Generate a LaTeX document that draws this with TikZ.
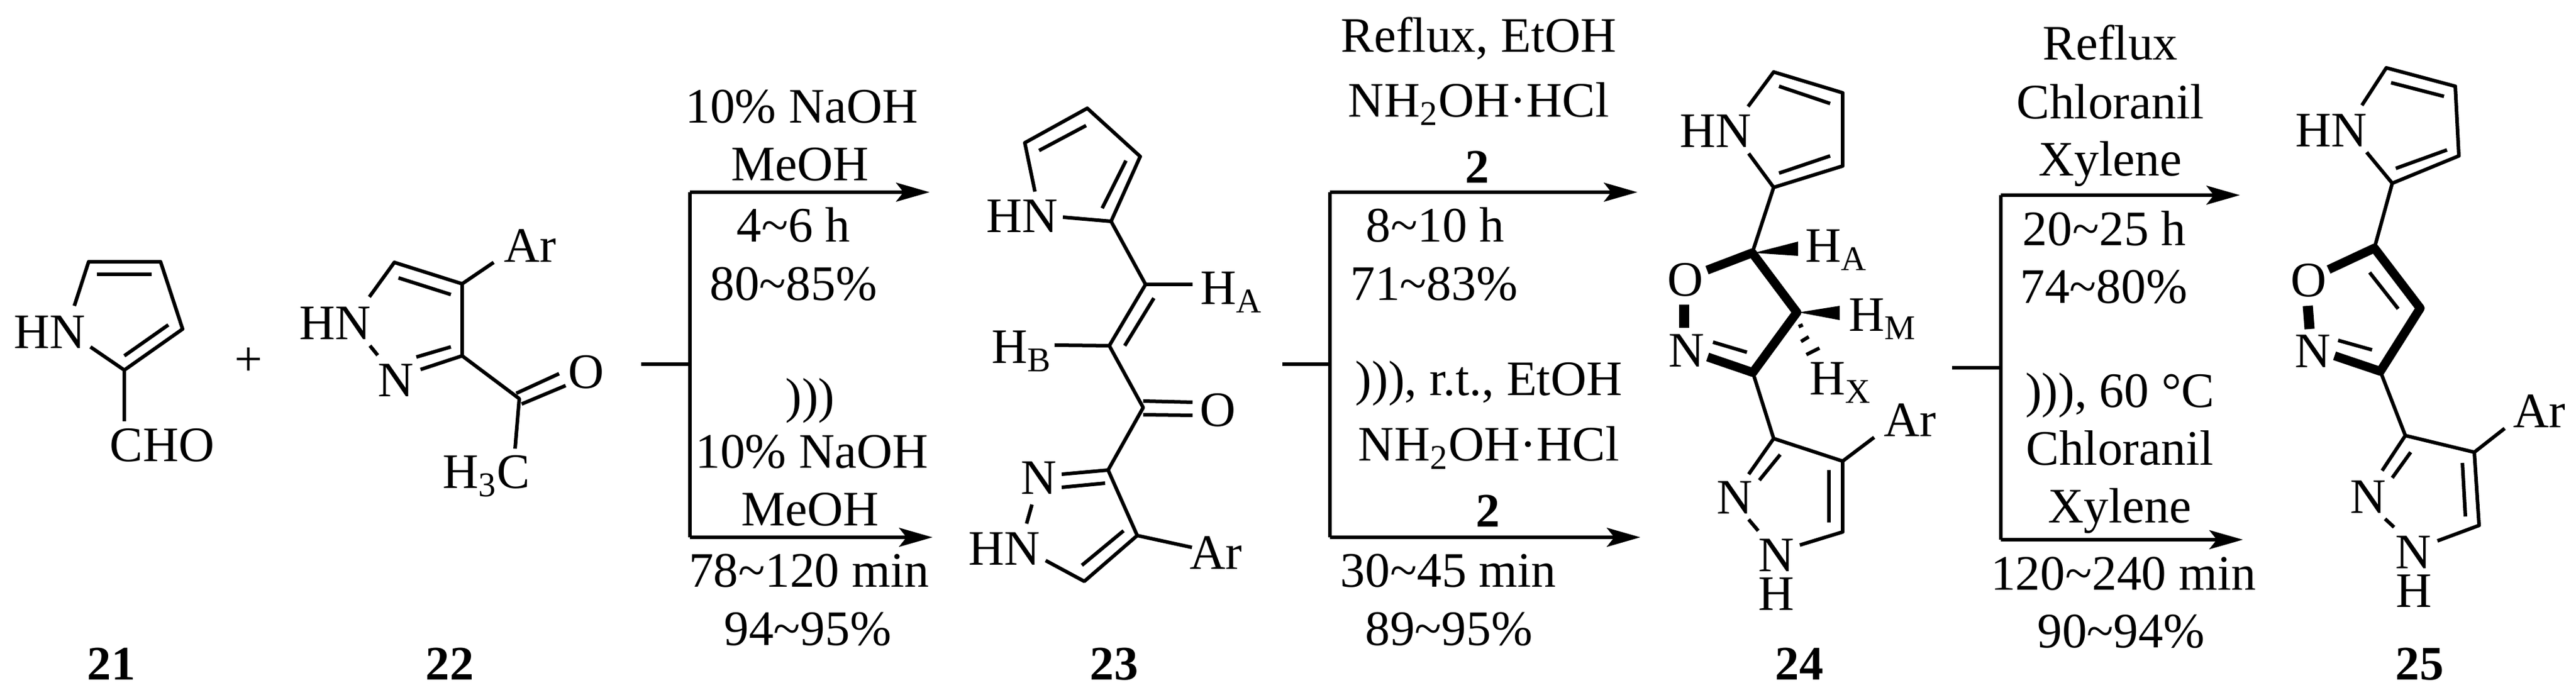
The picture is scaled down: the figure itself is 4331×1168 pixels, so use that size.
\documentclass[tikz,border=0pt]{standalone}
\usepackage{fontspec}
\setmainfont{Liberation Serif}
\usetikzlibrary{arrows.meta}
\newcommand{\til}{\textasciitilde}
\tikzset{
  atom/.style={anchor=base west,inner sep=0pt,font=\fontsize{23.7}{23.7}\selectfont},
  cond/.style={anchor=base,inner sep=0pt,font=\fontsize{23.7}{23.7}\selectfont},
  cmpd/.style={anchor=base,inner sep=0pt,font=\fontsize{23}{23}\selectfont\bfseries},
  bond/.style={line width=0.06cm,line join=round},
  heavy/.style={line width=0.15cm,line join=round},
  rxn/.style={line width=0.065cm},
  wedge/.style={fill=black,draw=none}
}
\begin{document}
\begin{tikzpicture}[x=0.01cm,y=-0.01cm,>={Stealth[length=16pt,width=9pt,inset=3.5pt]}]
  \useasboundingbox (0,0) rectangle (4331,1168);

  % Pirrol 21
  \coordinate (p1) at (125,514);
  \coordinate (p2) at (149,440);
  \coordinate (p3) at (270,440);
  \coordinate (p4) at (307,553);
  \coordinate (p5) at (209,622);
  \coordinate (p6) at (152,583);
  \coordinate (p7) at (209,708);
  \draw[bond] (p1) -- (p2) -- (p3) -- (p4) -- (p5) -- (p6);
  \draw[bond] (p5) -- (p7);
  \draw[bond] (163,461) -- (255,461);
  \draw[bond] (209,598) -- (283,546);
  \node[atom] (hnA) at (23,586) {HN};
  \node[atom] (cho) at (184,776) {CHO};
  \node[atom,anchor=center] (plus) at (418,608) {+};

  % Pirazol 22
  \coordinate (q1) at (621,499);
  \coordinate (q2) at (663,441);
  \coordinate (q3) at (777,477);
  \coordinate (q4) at (777,598);
  \coordinate (q5) at (707,621);
  \coordinate (q6) at (873,670);
  \coordinate (q7) at (866,754);
  \coordinate (q8) at (830,441);
  \coordinate (q9) at (622,581);
  \coordinate (q10) at (635,597);
  \draw[bond] (q1) -- (q2) -- (q3) -- (q4) -- (q5);
  \draw[bond] (q4) -- (q6) -- (q7);
  \draw[bond] (q3) -- (q8);
  \draw[bond] (q9) -- (q10);
  \draw[bond] (670,467) -- (758,495);
  \draw[bond] (700,600) -- (758,583);
  \draw[bond] (868,661) -- (940,628);
  \draw[bond] (877,679) -- (951,648);
  \node[atom] (hnB) at (503,571) {HN};
  \node[atom] (nB) at (635,667) {N};
  \node[atom] (arB) at (847,441) {Ar};
  \node[atom] (oB) at (955,653) {O};
  \node[atom] (hcB) at (744,821) {H\textsubscript{3}C};

  % Primera flecha
  \coordinate (s1) at (1078,612);
  \coordinate (t1) at (1160,612);
  \coordinate (u1) at (1160,323);
  \coordinate (v1) at (1160,903);
  \coordinate (w1) at (1563,323);
  \coordinate (z1) at (1568,903);
  \draw[rxn] (s1) -- (t1);
  \draw[rxn] (u1) -- (v1);
  \draw[rxn,->] (u1) -- (w1);
  \draw[rxn,->] (v1) -- (z1);
  \node[cond] (c1) at (1348,207) {10\% NaOH};
  \node[cond] (c2) at (1345,304) {MeOH};
  \node[cond] (c3) at (1334,407) {4\til6 h};
  \node[cond] (c4) at (1334,505) {80\til85\%};
  \node[cond] (c5) at (1362,694) {)))};
  \node[cond] (c6) at (1365,787) {10\% NaOH};
  \node[cond] (c7) at (1362,884) {MeOH};
  \node[cond] (c8) at (1360,987) {78\til120 min};
  \node[cond] (c9) at (1358,1084) {94\til95\%};

  % Chalcona 23
  \coordinate (r1) at (1740,322);
  \coordinate (r2) at (1723,240);
  \coordinate (r3) at (1828,182);
  \coordinate (r4) at (1917,263);
  \coordinate (r5) at (1868,372);
  \coordinate (r6) at (1787,365);
  \coordinate (r7) at (1926,478);
  \coordinate (r8) at (2005,478);
  \coordinate (r9) at (1865,581);
  \coordinate (r10) at (1773,580);
  \coordinate (r11) at (1922,685);
  \coordinate (r12) at (1863,790);
  \coordinate (r13) at (1785,797);
  \coordinate (r14) at (1735,848);
  \coordinate (r15) at (1726,880);
  \coordinate (r16) at (1912,900);
  \coordinate (r17) at (2004,920);
  \coordinate (r18) at (1823,977);
  \coordinate (r19) at (1758,942);
  \draw[bond] (r1) -- (r2) -- (r3) -- (r4) -- (r5) -- (r6);
  \draw[bond] (r5) -- (r7) -- (r8);
  \draw[bond] (r7) -- (r9) -- (r10);
  \draw[bond] (r9) -- (r11) -- (r12) -- (r13);
  \draw[bond] (r14) -- (r15);
  \draw[bond] (r12) -- (r16) -- (r17);
  \draw[bond] (r16) -- (r18) -- (r19);
  \draw[bond] (1747,253) -- (1826,211);
  \draw[bond] (1893,270) -- (1853,350);
  \draw[bond] (1940,501) -- (1891,581);
  \draw[bond] (1922,674) -- (2005,676);
  \draw[bond] (1922,697) -- (2005,698);
  \draw[bond] (1858,812) -- (1785,819);
  \draw[bond] (1819,950) -- (1889,892);
  \node[atom] (hnC) at (1658,391) {HN};
  \node[atom] (haC) at (2018,512) {H\textsubscript{A}};
  \node[atom] (hbC) at (1667,611) {H\textsubscript{B}};
  \node[atom] (oC) at (2017,717) {O};
  \node[atom] (nC) at (1716,831) {N};
  \node[atom] (hmC) at (1628,950) {HN};
  \node[atom] (arC) at (2000,957) {Ar};

  % Segunda flecha
  \coordinate (s2) at (2156,612);
  \coordinate (t2) at (2236,612);
  \coordinate (u2) at (2236,323);
  \coordinate (v2) at (2236,903);
  \coordinate (w2) at (2753,323);
  \coordinate (z2) at (2758,903);
  \draw[rxn] (s2) -- (t2);
  \draw[rxn] (u2) -- (v2);
  \draw[rxn,->] (u2) -- (w2);
  \draw[rxn,->] (v2) -- (z2);
  \node[cond] (d1) at (2486,88) {Reflux, EtOH};
  \node[cond] (d2) at (2486,197) {NH\textsubscript{2}OH·HCl};
  \node[cmpd] (d3) at (2484,308) {2};
  \node[cond] (d4) at (2413,407) {8\til10 h};
  \node[cond] (d5) at (2411,505) {71\til83\%};
  \node[cond] (d6) at (2503,665) {))), r.t., EtOH};
  \node[cond] (d7) at (2503,775) {NH\textsubscript{2}OH·HCl};
  \node[cmpd] (d8) at (2502,886) {2};
  \node[cond] (d9) at (2435,987) {30\til45 min};
  \node[cond] (d10) at (2436,1084) {89\til95\%};

  % Isoxazolina 24
  \coordinate (e1) at (2939,179);
  \coordinate (e2) at (2982,121);
  \coordinate (e3) at (3098,156);
  \coordinate (e4) at (3098,279);
  \coordinate (e5) at (2982,315);
  \coordinate (e6) at (2940,258);
  \coordinate (e7) at (2946,425);
  \coordinate (e8) at (2870,454);
  \coordinate (e9) at (3021,525);
  \coordinate (e10) at (2947,626);
  \coordinate (e11) at (2871,600);
  \coordinate (e12) at (2982,737);
  \coordinate (e13) at (2940,797);
  \coordinate (e14) at (2940,873);
  \coordinate (e15) at (2956,892);
  \coordinate (e16) at (3026,916);
  \coordinate (e17) at (3098,894);
  \coordinate (e18) at (3098,775);
  \coordinate (e19) at (3151,735);
  \coordinate (e20) at (2831,512);
  \coordinate (e21) at (2831,551);
  \draw[bond] (e1) -- (e2) -- (e3) -- (e4) -- (e5) -- (e6);
  \draw[bond] (e5) -- (e7);
  \draw[heavy] (e8) -- (e7) -- (e9) -- (e10) -- (e11);
  \draw[heavy,line width=0.17cm] (e20) -- (e21);
  \draw[bond] (e10) -- (e12) -- (e13);
  \draw[bond] (e14) -- (e15);
  \draw[bond] (e16) -- (e17) -- (e18) -- (e12);
  \draw[bond] (e18) -- (e19);
  \draw[bond] (2991,145) -- (3077,174);
  \draw[bond] (2991,291) -- (3077,262);
  \draw[bond] (2880,575) -- (2937,592);
  \draw[bond] (2993,764) -- (2958,807);
  \draw[bond] (3075,790) -- (3075,878);
  \fill[wedge] (2949,425) -- (3023,406) -- (3023,430) -- cycle;
  \fill[wedge] (3024,525) -- (3093,514) -- (3093,538) -- cycle;
  \draw[bond] (3024,549) -- (3031,546);
  \draw[bond] (3028,574) -- (3041,566);
  \draw[bond] (3037,596) -- (3059,585);
  \node[atom] (hnD) at (2824,248) {HN};
  \node[atom] (oD) at (2803,498) {O};
  \node[atom] (nD) at (2805,617) {N};
  \node[atom] (haD) at (3035,441) {H\textsubscript{A}};
  \node[atom] (hmD) at (3108,557) {H\textsubscript{M}};
  \node[atom] (hxD) at (3042,664) {H\textsubscript{X}};
  \node[atom] (arD) at (3167,734) {Ar};
  \node[atom] (naD) at (2886,864) {N};
  \node[atom] (nbD) at (2956,961) {N};
  \node[atom] (hD) at (2956,1026) {H};

  % Tercera flecha
  \coordinate (s3) at (3282,618);
  \coordinate (t3) at (3364,618);
  \coordinate (u3) at (3364,328);
  \coordinate (v3) at (3364,907);
  \coordinate (w3) at (3766,328);
  \coordinate (z3) at (3771,907);
  \draw[rxn] (s3) -- (t3);
  \draw[rxn] (u3) -- (v3);
  \draw[rxn,->] (u3) -- (w3);
  \draw[rxn,->] (v3) -- (z3);
  \node[cond] (f1) at (3548,101) {Reflux};
  \node[cond] (f2) at (3548,200) {Chloranil};
  \node[cond] (f3) at (3548,296) {Xylene};
  \node[cond] (f4) at (3538,413) {20\til25 h};
  \node[cond] (f5) at (3537,510) {74\til80\%};
  \node[cond] (f6) at (3564,685) {))), 60 °C};
  \node[cond] (f7) at (3564,782) {Chloranil};
  \node[cond] (f8) at (3564,879) {Xylene};
  \node[cond] (f9) at (3570,992) {120\til240 min};
  \node[cond] (f10) at (3566,1089) {90\til94\%};

  % Isoxazol 25
  \coordinate (g1) at (3971,177);
  \coordinate (g2) at (4012,114);
  \coordinate (g3) at (4128,145);
  \coordinate (g4) at (4134,262);
  \coordinate (g5) at (4022,308);
  \coordinate (g6) at (3979,256);
  \coordinate (g7) at (3992,417);
  \coordinate (g8) at (3915,453);
  \coordinate (g9) at (4069,518);
  \coordinate (g10) at (4002,624);
  \coordinate (g11) at (3925,598);
  \coordinate (g12) at (4044,732);
  \coordinate (g13) at (4005,791);
  \coordinate (g14) at (4010,872);
  \coordinate (g15) at (4025,886);
  \coordinate (g16) at (4098,909);
  \coordinate (g17) at (4168,883);
  \coordinate (g18) at (4160,760);
  \coordinate (g19) at (4211,720);
  \coordinate (g20) at (3880,514);
  \coordinate (g21) at (3883,553);
  \draw[bond] (g1) -- (g2) -- (g3) -- (g4) -- (g5) -- (g6);
  \draw[bond] (g5) -- (g7);
  \draw[heavy] (g8) -- (g7) -- (g9) -- (g10) -- (g11);
  \draw[heavy,line width=0.17cm] (g20) -- (g21);
  \draw[bond] (g10) -- (g12) -- (g13);
  \draw[bond] (g14) -- (g15);
  \draw[bond] (g16) -- (g17) -- (g18) -- (g12);
  \draw[bond] (g18) -- (g19);
  \draw[bond] (4020,139) -- (4109,162);
  \draw[bond] (4028,283) -- (4114,252);
  \draw[bond] (3984,458) -- (4032,519);
  \draw[bond] (3931,572) -- (3988,588);
  \draw[bond] (4053,760) -- (4022,803);
  \draw[bond] (4140,778) -- (4145,868);
  \node[atom] (hnE) at (3859,247) {HN};
  \node[atom] (oE) at (3851,499) {O};
  \node[atom] (nE) at (3858,618) {N};
  \node[atom] (arE) at (4225,719) {Ar};
  \node[atom] (naE) at (3951,863) {N};
  \node[atom] (nbE) at (4027,956) {N};
  \node[atom] (hE) at (4028,1021) {H};

  % Numeros
  \node[cmpd] (n21) at (187,1142) {21};
  \node[cmpd] (n22) at (756,1142) {22};
  \node[cmpd] (n23) at (1873,1142) {23};
  \node[cmpd] (n24) at (3025,1142) {24};
  \node[cmpd] (n25) at (4068,1142) {25};

\end{tikzpicture}
\end{document}
